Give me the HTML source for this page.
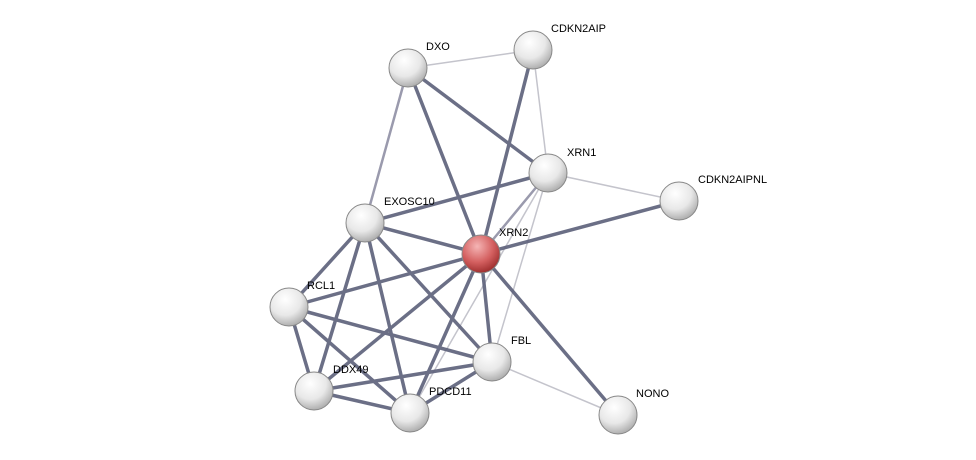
<!DOCTYPE html>
<html><head><meta charset="utf-8"><style>
html,body{margin:0;padding:0;background:#fff;width:976px;height:460px;overflow:hidden}
text{font-family:"Liberation Sans",sans-serif;font-size:11px;fill:#000}
</style></head><body>
<svg width="976" height="460" viewBox="0 0 976 460" xmlns="http://www.w3.org/2000/svg">
<defs>
<radialGradient id="g" cx="40%" cy="30%" r="70%">
<stop offset="0" stop-color="#ffffff"/><stop offset="0.6" stop-color="#e8e8e8"/><stop offset="1" stop-color="#b0b0b0"/>
</radialGradient>
<radialGradient id="r" cx="40%" cy="30%" r="70%">
<stop offset="0" stop-color="#f5b5b5"/><stop offset="0.6" stop-color="#d46060"/><stop offset="1" stop-color="#a03030"/>
</radialGradient>
</defs>
<g stroke-linecap="round">
<g stroke="#c4c4cc" stroke-width="1.5">
<line x1="408" y1="68" x2="533" y2="50"/>
<line x1="533" y1="50" x2="548" y2="173"/>
<line x1="548" y1="173" x2="679" y2="201"/>
<line x1="548" y1="173" x2="492" y2="362"/>
<line x1="548" y1="173" x2="410" y2="413"/>
<line x1="492" y1="362" x2="618" y2="415"/>
</g>
<line x1="408" y1="68" x2="365" y2="223" stroke="#9a9aad" stroke-width="2.5"/>
<line x1="548" y1="173" x2="481" y2="254" stroke="#9a9aad" stroke-width="2.5"/>
<g stroke="#5c607a" stroke-width="3.5" opacity="0.9">
<line x1="408" y1="68" x2="481" y2="254"/>
<line x1="408" y1="68" x2="548" y2="173"/>
<line x1="533" y1="50" x2="481" y2="254"/>
<line x1="548" y1="173" x2="365" y2="223"/>
<line x1="481" y1="254" x2="679" y2="201"/>
<line x1="365" y1="223" x2="481" y2="254"/>
<line x1="365" y1="223" x2="289" y2="307"/>
<line x1="365" y1="223" x2="314" y2="391"/>
<line x1="365" y1="223" x2="410" y2="413"/>
<line x1="365" y1="223" x2="492" y2="362"/>
<line x1="481" y1="254" x2="289" y2="307"/>
<line x1="481" y1="254" x2="314" y2="391"/>
<line x1="481" y1="254" x2="410" y2="413"/>
<line x1="481" y1="254" x2="492" y2="362"/>
<line x1="481" y1="254" x2="618" y2="415"/>
<line x1="289" y1="307" x2="314" y2="391"/>
<line x1="289" y1="307" x2="410" y2="413"/>
<line x1="289" y1="307" x2="492" y2="362"/>
<line x1="314" y1="391" x2="410" y2="413"/>
<line x1="314" y1="391" x2="492" y2="362"/>
<line x1="410" y1="413" x2="492" y2="362"/>
</g>
</g>
<g stroke="#888" stroke-width="1">
<circle cx="408" cy="68" r="19" fill="url(#g)"/>
<circle cx="533" cy="50" r="19" fill="url(#g)"/>
<circle cx="548" cy="173" r="19" fill="url(#g)"/>
<circle cx="679" cy="201" r="19" fill="url(#g)"/>
<circle cx="365" cy="223" r="19" fill="url(#g)"/>
<circle cx="481" cy="254" r="19" fill="url(#r)"/>
<circle cx="289" cy="307" r="19" fill="url(#g)"/>
<circle cx="492" cy="362" r="19" fill="url(#g)"/>
<circle cx="314" cy="391" r="19" fill="url(#g)"/>
<circle cx="410" cy="413" r="19" fill="url(#g)"/>
<circle cx="618" cy="415" r="19" fill="url(#g)"/>
</g>
<text x="426" y="50">DXO</text>
<text x="551" y="32">CDKN2AIP</text>
<text x="567" y="156">XRN1</text>
<text x="698" y="183">CDKN2AIPNL</text>
<text x="384" y="205">EXOSC10</text>
<text x="499" y="236">XRN2</text>
<text x="307" y="289">RCL1</text>
<text x="511" y="344">FBL</text>
<text x="333" y="373">DDX49</text>
<text x="429" y="395">PDCD11</text>
<text x="636" y="397">NONO</text>
</svg>
</body></html>
